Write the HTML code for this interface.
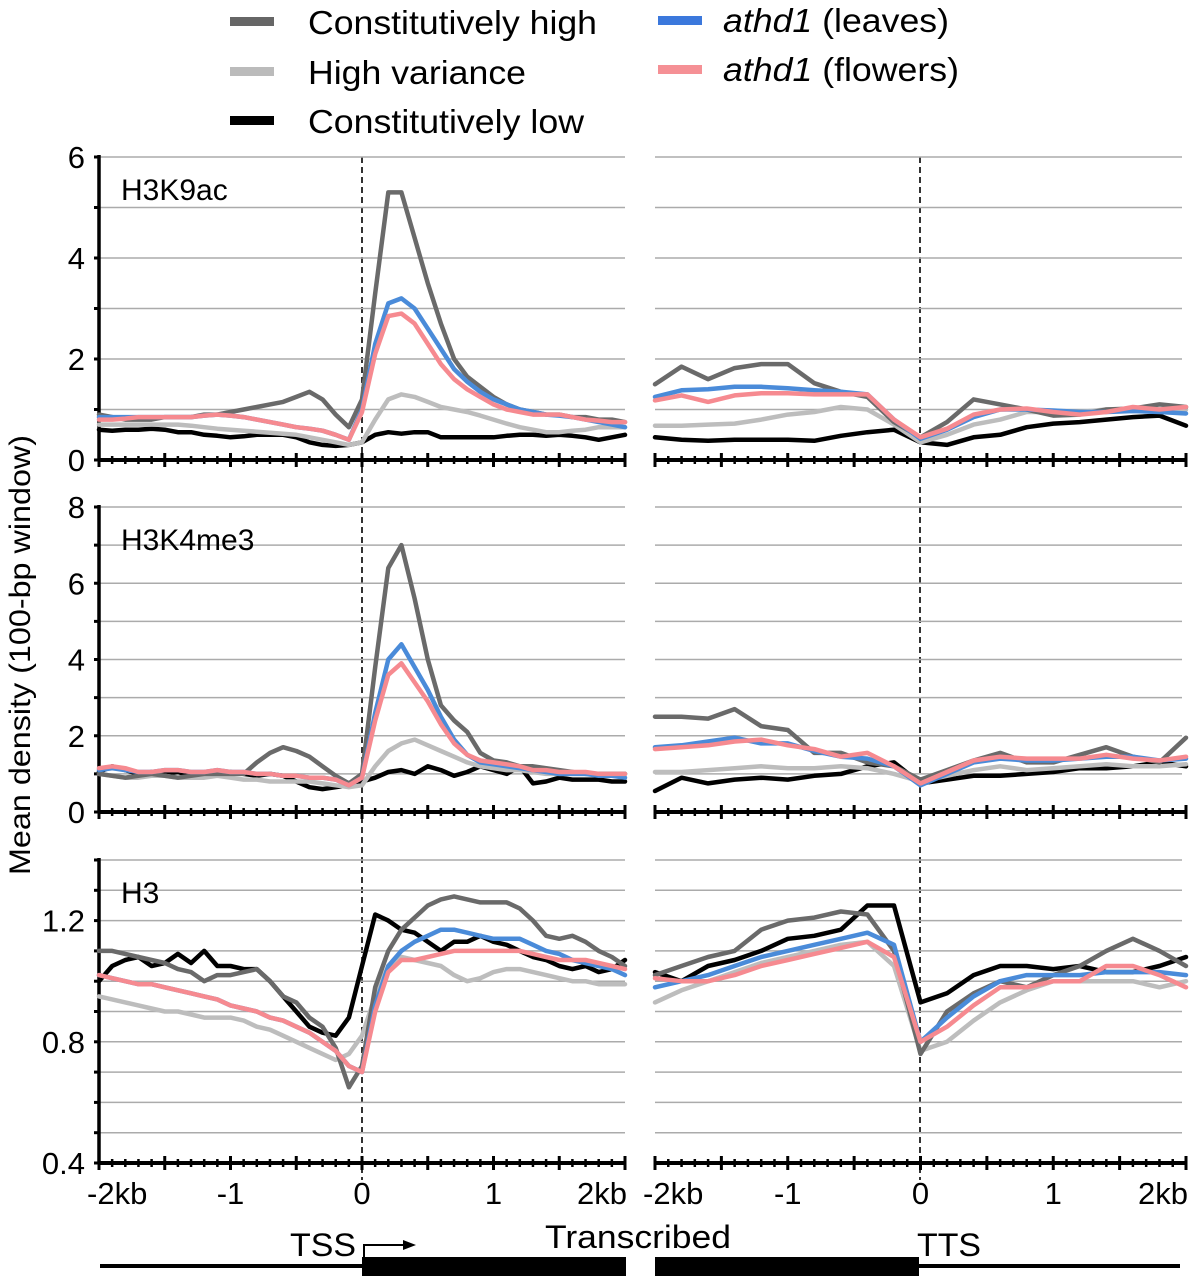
<!DOCTYPE html>
<html><head><meta charset="utf-8">
<style>
html,body{margin:0;padding:0;background:#fff;}
svg{display:block;font-family:"Liberation Sans",Arial,sans-serif;}
</style></head>
<body>
<svg id="fig" width="1200" height="1280" viewBox="0 0 1200 1280" xmlns="http://www.w3.org/2000/svg">
<g>
 <g><rect x="230" y="17" width="44" height="9" fill="#666"/><text x="308" y="34" font-size="33" textLength="289" lengthAdjust="spacingAndGlyphs">Constitutively high</text></g>
 <g><rect x="230" y="67" width="44" height="9" fill="#bbb"/><text x="308" y="84" font-size="33" textLength="218" lengthAdjust="spacingAndGlyphs">High variance</text></g>
 <g><rect x="230" y="116" width="44" height="9" fill="#000"/><text x="308" y="133" font-size="33" textLength="276" lengthAdjust="spacingAndGlyphs">Constitutively low</text></g>
 <g><rect x="658" y="16" width="44" height="9" fill="#3b78dc"/><text x="723" y="32" font-size="33" textLength="226" lengthAdjust="spacingAndGlyphs"><tspan font-style="italic">athd1</tspan> (leaves)</text></g>
 <g><rect x="658" y="65" width="44" height="9" fill="#f59095"/><text x="723" y="81" font-size="33" textLength="236" lengthAdjust="spacingAndGlyphs"><tspan font-style="italic">athd1</tspan> (flowers)</text></g>
</g>
<text transform="translate(30,655) rotate(-90)" text-anchor="middle" font-size="30" textLength="440" lengthAdjust="spacingAndGlyphs">Mean density (100-bp window)</text>
<g id="panels"></g>
<g>
 <line x1="100" y1="1266" x2="362" y2="1266" stroke="#000" stroke-width="4"/>
 <rect x="362" y="1257" width="264" height="19" fill="#000"/>
 <rect x="655" y="1257" width="264" height="19" fill="#000"/>
 <line x1="918" y1="1266" x2="1180" y2="1266" stroke="#000" stroke-width="4"/>
 <polyline points="364,1257 364,1245 405,1245" fill="none" stroke="#000" stroke-width="2"/>
 <polygon points="403,1240 416,1245 403,1250" fill="#000"/>
 <text x="356" y="1256" text-anchor="end" font-size="32" textLength="66" lengthAdjust="spacingAndGlyphs">TSS</text>
 <text x="638" y="1248" text-anchor="middle" font-size="32" textLength="186" lengthAdjust="spacingAndGlyphs">Transcribed</text>
 <text x="917" y="1256" font-size="32" textLength="64" lengthAdjust="spacingAndGlyphs">TTS</text>
</g>
</svg>
<script>
// x positions (kb) of samples
const kbFine = [-2,-1.9,-1.8,-1.7,-1.6,-1.5,-1.4,-1.3,-1.2,-1.1,-1,-0.9,-0.8,-0.7,-0.6,-0.5,-0.4,-0.3,-0.2,-0.1,0,0.1,0.2,0.3,0.4,0.5,0.6,0.7,0.8,0.9,1,1.1,1.2,1.3,1.4,1.5,1.6,1.7,1.8,1.9,2];
const kbCoarse = [-2,-1.8,-1.6,-1.4,-1.2,-1,-0.8,-0.6,-0.4,-0.2,0,0.2,0.4,0.6,0.8,1,1.2,1.4,1.6,1.8,2];
const xTickLabels = ["-2kb","-1","0","1","2kb"];
const xTickValues = [-2,-1,0,1,2];

// H3K9ac TSS
const k9TssHigh = [0.9,0.85,0.8,0.8,0.8,0.85,0.85,0.85,0.9,0.9,0.95,1.0,1.05,1.1,1.15,1.25,1.35,1.2,0.9,0.65,1.2,3.3,5.3,5.3,4.4,3.5,2.7,2.0,1.65,1.45,1.25,1.1,1.0,0.95,0.9,0.9,0.85,0.85,0.8,0.8,0.75];
const k9TssVar = [0.7,0.7,0.7,0.7,0.7,0.7,0.7,0.68,0.65,0.62,0.6,0.58,0.56,0.54,0.52,0.5,0.45,0.4,0.35,0.3,0.35,0.8,1.2,1.3,1.25,1.15,1.05,1.0,0.95,0.88,0.8,0.72,0.65,0.6,0.55,0.55,0.58,0.6,0.65,0.65,0.65];
const k9TssLow = [0.6,0.58,0.6,0.6,0.62,0.6,0.55,0.55,0.5,0.48,0.45,0.47,0.5,0.5,0.5,0.45,0.35,0.3,0.28,0.3,0.35,0.5,0.55,0.52,0.55,0.55,0.45,0.45,0.45,0.45,0.45,0.48,0.5,0.5,0.48,0.5,0.48,0.45,0.4,0.45,0.5];
const k9TssLeaf = [0.85,0.85,0.85,0.85,0.85,0.85,0.85,0.85,0.88,0.9,0.88,0.85,0.8,0.75,0.7,0.65,0.62,0.58,0.5,0.4,1.0,2.3,3.1,3.2,3.0,2.6,2.2,1.8,1.55,1.35,1.2,1.1,1.0,0.95,0.9,0.88,0.85,0.8,0.75,0.7,0.65];
const k9TssFlower = [0.8,0.8,0.82,0.85,0.85,0.85,0.85,0.85,0.88,0.9,0.88,0.85,0.8,0.75,0.7,0.65,0.62,0.58,0.5,0.4,0.95,2.1,2.85,2.9,2.7,2.3,1.9,1.6,1.4,1.25,1.1,1.0,0.95,0.9,0.9,0.9,0.85,0.8,0.78,0.75,0.75];
// H3K9ac TTS
const k9TtsHigh = [1.5,1.85,1.6,1.82,1.9,1.9,1.52,1.35,1.25,0.75,0.45,0.75,1.2,1.1,1.0,0.88,0.9,1.0,1.02,1.1,1.05];
const k9TtsVar = [0.68,0.68,0.7,0.72,0.8,0.9,0.95,1.05,1.0,0.7,0.35,0.5,0.7,0.8,0.95,0.95,0.95,1.0,1.0,1.0,1.0];
const k9TtsLow = [0.45,0.4,0.38,0.4,0.4,0.4,0.38,0.48,0.55,0.6,0.35,0.3,0.45,0.5,0.65,0.72,0.75,0.8,0.85,0.88,0.68];
const k9TtsLeaf = [1.25,1.38,1.4,1.45,1.45,1.42,1.38,1.35,1.3,0.8,0.42,0.6,0.85,1.0,1.0,0.98,0.95,0.95,0.97,0.95,0.92];
const k9TtsFlower = [1.18,1.28,1.15,1.28,1.32,1.32,1.3,1.3,1.3,0.8,0.45,0.62,0.9,1.0,1.02,0.95,0.9,0.95,1.05,1.0,1.05];
// H3K4me3 TSS
const k4TssHigh = [1.0,0.95,0.9,0.95,1.0,0.95,0.9,0.95,1.0,1.0,1.0,1.0,1.3,1.55,1.7,1.6,1.45,1.2,0.95,0.75,1.0,3.8,6.4,7.0,5.6,4.0,2.8,2.4,2.1,1.55,1.35,1.3,1.2,1.2,1.15,1.1,1.05,1.0,1.0,1.0,1.0];
const k4TssVar = [1.0,0.95,0.9,0.9,0.95,0.95,0.9,0.9,0.9,0.95,0.9,0.85,0.85,0.8,0.8,0.8,0.8,0.75,0.7,0.65,0.7,1.2,1.6,1.8,1.9,1.75,1.6,1.45,1.3,1.2,1.15,1.1,1.1,1.05,1.0,1.0,1.0,1.0,1.0,1.0,1.0];
const k4TssLow = [1.05,1.2,1.1,1.0,1.05,1.0,1.05,0.95,1.0,1.0,1.05,1.0,0.95,1.0,0.95,0.8,0.65,0.6,0.65,0.7,0.8,0.9,1.05,1.1,1.0,1.2,1.1,0.95,1.05,1.2,1.1,1.0,1.2,0.75,0.8,0.9,0.85,0.85,0.85,0.8,0.8];
const k4TssLeaf = [1.1,1.15,1.1,1.05,1.05,1.1,1.1,1.05,1.05,1.1,1.05,1.05,1.0,1.0,0.95,0.95,0.9,0.9,0.85,0.7,0.9,2.6,4.0,4.4,3.8,3.2,2.5,1.9,1.5,1.3,1.25,1.2,1.15,1.1,1.05,1.0,1.0,1.0,0.95,0.95,0.9];
const k4TssFlower = [1.15,1.2,1.15,1.05,1.05,1.1,1.1,1.05,1.05,1.1,1.05,1.05,1.0,1.0,0.95,0.95,0.9,0.9,0.85,0.7,0.9,2.4,3.6,3.9,3.4,2.9,2.3,1.8,1.5,1.35,1.3,1.25,1.2,1.1,1.1,1.05,1.05,1.05,1.0,1.0,1.0];
// H3K4me3 TTS
const k4TtsHigh = [2.5,2.5,2.45,2.7,2.25,2.15,1.55,1.55,1.3,1.2,0.85,1.1,1.35,1.55,1.3,1.3,1.5,1.7,1.45,1.3,1.95];
const k4TtsVar = [1.05,1.05,1.1,1.15,1.2,1.15,1.15,1.2,1.15,1.0,0.8,0.95,1.1,1.2,1.1,1.15,1.2,1.25,1.2,1.2,1.25];
const k4TtsLow = [0.55,0.9,0.75,0.85,0.9,0.85,0.95,1.0,1.2,1.3,0.75,0.85,0.95,0.95,1.0,1.05,1.15,1.15,1.2,1.3,1.2];
const k4TtsLeaf = [1.7,1.75,1.85,1.95,1.8,1.8,1.6,1.45,1.4,1.2,0.7,1.0,1.3,1.4,1.35,1.35,1.4,1.45,1.45,1.35,1.4];
const k4TtsFlower = [1.65,1.7,1.75,1.85,1.9,1.75,1.65,1.45,1.55,1.2,0.75,1.05,1.35,1.45,1.4,1.4,1.4,1.5,1.4,1.35,1.45];
// H3 TSS
const h3TssHigh = [1.1,1.1,1.09,1.08,1.07,1.06,1.04,1.03,1.0,1.02,1.02,1.03,1.04,1.0,0.95,0.93,0.88,0.85,0.78,0.65,0.72,0.98,1.1,1.17,1.21,1.25,1.27,1.28,1.27,1.26,1.26,1.26,1.24,1.2,1.15,1.14,1.15,1.13,1.1,1.08,1.05];
const h3TssVar = [0.95,0.94,0.93,0.92,0.91,0.9,0.9,0.89,0.88,0.88,0.88,0.87,0.85,0.84,0.82,0.8,0.78,0.76,0.74,0.76,0.82,0.95,1.05,1.08,1.07,1.06,1.05,1.02,1.0,1.01,1.03,1.04,1.04,1.03,1.02,1.01,1.0,1.0,0.99,0.99,0.99];
const h3TssLow = [1.0,1.05,1.07,1.08,1.05,1.06,1.09,1.06,1.1,1.05,1.05,1.04,1.04,1.0,0.95,0.9,0.85,0.83,0.82,0.88,1.05,1.22,1.2,1.17,1.16,1.13,1.1,1.13,1.13,1.15,1.13,1.12,1.1,1.08,1.07,1.05,1.04,1.05,1.03,1.04,1.07];
const h3TssLeaf = [1.02,1.01,1.0,0.99,0.99,0.98,0.97,0.96,0.95,0.94,0.92,0.91,0.9,0.88,0.87,0.85,0.83,0.8,0.77,0.72,0.7,0.92,1.05,1.1,1.13,1.15,1.17,1.17,1.16,1.15,1.14,1.14,1.14,1.12,1.1,1.09,1.07,1.06,1.05,1.04,1.02];
const h3TssFlower = [1.02,1.01,1.0,0.99,0.99,0.98,0.97,0.96,0.95,0.94,0.92,0.91,0.9,0.88,0.87,0.85,0.83,0.8,0.77,0.72,0.7,0.9,1.03,1.07,1.07,1.08,1.09,1.1,1.1,1.1,1.1,1.1,1.1,1.09,1.08,1.07,1.07,1.07,1.06,1.05,1.04];
// H3 TTS
const h3TtsHigh = [1.02,1.05,1.08,1.1,1.17,1.2,1.21,1.23,1.22,1.1,0.76,0.9,0.96,1.0,0.98,1.02,1.05,1.1,1.14,1.1,1.05];
const h3TtsVar = [0.93,0.97,1.0,1.03,1.06,1.08,1.1,1.12,1.13,1.05,0.77,0.8,0.87,0.93,0.97,1.0,1.0,1.0,1.0,0.98,1.0];
const h3TtsLow = [1.03,1.0,1.05,1.07,1.1,1.14,1.15,1.17,1.25,1.25,0.93,0.96,1.02,1.05,1.05,1.04,1.05,1.03,1.03,1.05,1.08];
const h3TtsLeaf = [0.98,1.0,1.02,1.05,1.08,1.1,1.12,1.14,1.16,1.12,0.8,0.88,0.95,1.0,1.02,1.02,1.02,1.03,1.03,1.03,1.02];
const h3TtsFlower = [1.01,1.0,1.0,1.02,1.05,1.07,1.09,1.11,1.13,1.08,0.8,0.85,0.92,0.98,0.98,1.0,1.0,1.05,1.05,1.02,0.98];

const NS = "http://www.w3.org/2000/svg";
const root = document.getElementById("panels");
function mk(tag, attrs, parent){const e=document.createElementNS(NS,tag);for(const k in attrs)e.setAttribute(k,attrs[k]);(parent||root).appendChild(e);return e;}

const colors = {high:"#6a6a6a", vari:"#bdbdbd", low:"#000", leaf:"#4a8bd9", flower:"#f68a90"};
const cols = [{x0:99,x1:625,gx0:99,gx1:625,axis:true},{x0:655,x1:1186,gx0:655,gx1:1182,axis:false}];
const rows = [
 {name:"h3k9ac", label:"H3K9ac", yBottom:460, yTop:157, vmin:0, vmax:6, grid:1, labelStep:2, dec:0,
  series:[[k9TssLow,k9TssVar,k9TssHigh,k9TssLeaf,k9TssFlower],[k9TtsLow,k9TtsVar,k9TtsHigh,k9TtsLeaf,k9TtsFlower]]},
 {name:"h3k4me3", label:"H3K4me3", yBottom:812, yTop:507, vmin:0, vmax:8, grid:1, labelStep:2, dec:0,
  series:[[k4TssLow,k4TssVar,k4TssHigh,k4TssLeaf,k4TssFlower],[k4TtsLow,k4TtsVar,k4TtsHigh,k4TtsLeaf,k4TtsFlower]]},
 {name:"h3", label:"H3", yBottom:1163, yTop:860, vmin:0.4, vmax:1.4, grid:0.1, labelStep:0.4, dec:1,
  series:[[h3TssLow,h3TssVar,h3TssHigh,h3TssLeaf,h3TssFlower],[h3TtsLow,h3TtsVar,h3TtsHigh,h3TtsLeaf,h3TtsFlower]]}
];
const keys = ["low","vari","high","leaf","flower"];

[362,920].forEach(function(x,i){
 const d = mk("line",{x1:x,y1:157,x2:x,y2:1180,stroke:"#000","stroke-width":1.6,"stroke-dasharray":"6,4"});
 
 
});

rows.forEach(function(r){
 const yScale = v => r.yBottom - (v - r.vmin)/(r.vmax - r.vmin)*(r.yBottom - r.yTop);
 cols.forEach(function(c,ci){
  const xScale = kb => c.x0 + (kb + 2)/4*(c.x1 - c.x0);
  const g = mk("g",{});
  
  
  const n = Math.round((r.vmax - r.vmin)/r.grid);
  for(let i=1;i<=n;i++){
   const y = yScale(r.vmin + i*r.grid);
   const gl = mk("line",{x1:c.gx0,y1:y,x2:c.gx1,y2:y,stroke:"#ababab","stroke-width":1.5},g);
   
   
  }
  if(c.axis){
   const ax = mk("line",{x1:c.x0,y1:r.yTop-2,x2:c.x0,y2:r.yBottom,stroke:"#000","stroke-width":3.5},g);
   
   
   for(let i=0;i<=n;i++){
    const v = r.vmin + i*r.grid, y = yScale(v);
    mk("line",{x1:c.x0-5,y1:y,x2:c.x0,y2:y,stroke:"#000","stroke-width":3},g);
    const q = (v - r.vmin)/r.labelStep;
    if(Math.abs(q - Math.round(q))<1e-6){
     const t = mk("text",{x:c.x0-14,y:y+11,"text-anchor":"end","font-size":31},g);
     t.textContent = v.toFixed(r.dec);
     
     
    }
   }
   const pl = mk("text",{x:c.x0+22,y:r.yTop+43,"font-size":30},g);
   pl.textContent = r.label;
   
   
  }
  const xs = r.series[ci][0].length === kbFine.length ? kbFine : kbCoarse;
  r.series[ci].forEach(function(arr,si){
   const pts = arr.map((v,i)=> xScale(xs[i]).toFixed(1)+","+yScale(v).toFixed(1)).join(" ");
   const pl = mk("polyline",{points:pts,fill:"none",stroke:colors[keys[si]],"stroke-width":4.5,"stroke-linejoin":"round","stroke-linecap":"round"},g);
   
   
  });
  const xa = mk("line",{x1:c.x0,y1:r.yBottom,x2:c.x1,y2:r.yBottom,stroke:"#000","stroke-width":4},g);
  
  
  for(let i=0;i<=40;i++){
   const x = xScale(-2 + i*0.1);
   const major = i%5===0;
   mk("line",{x1:x,y1:r.yBottom-(major?7:4),x2:x,y2:r.yBottom+(major?7:4),stroke:"#000","stroke-width":major?3:2.5},g);
  }
  if(r.name==="h3"){
   xTickValues.forEach(function(kb,i){
    let x = xScale(kb), anchor="middle";
    if(i===0){anchor="start"; x = c.x0-12;}
    if(i===4){anchor="end"; x = c.x1+2;}
    const t = mk("text",{x:x,y:1204,"text-anchor":anchor,"font-size":31},g);
    t.textContent = xTickLabels[i];
    
    
   });
  }
 });
});
</script>
</body></html>
